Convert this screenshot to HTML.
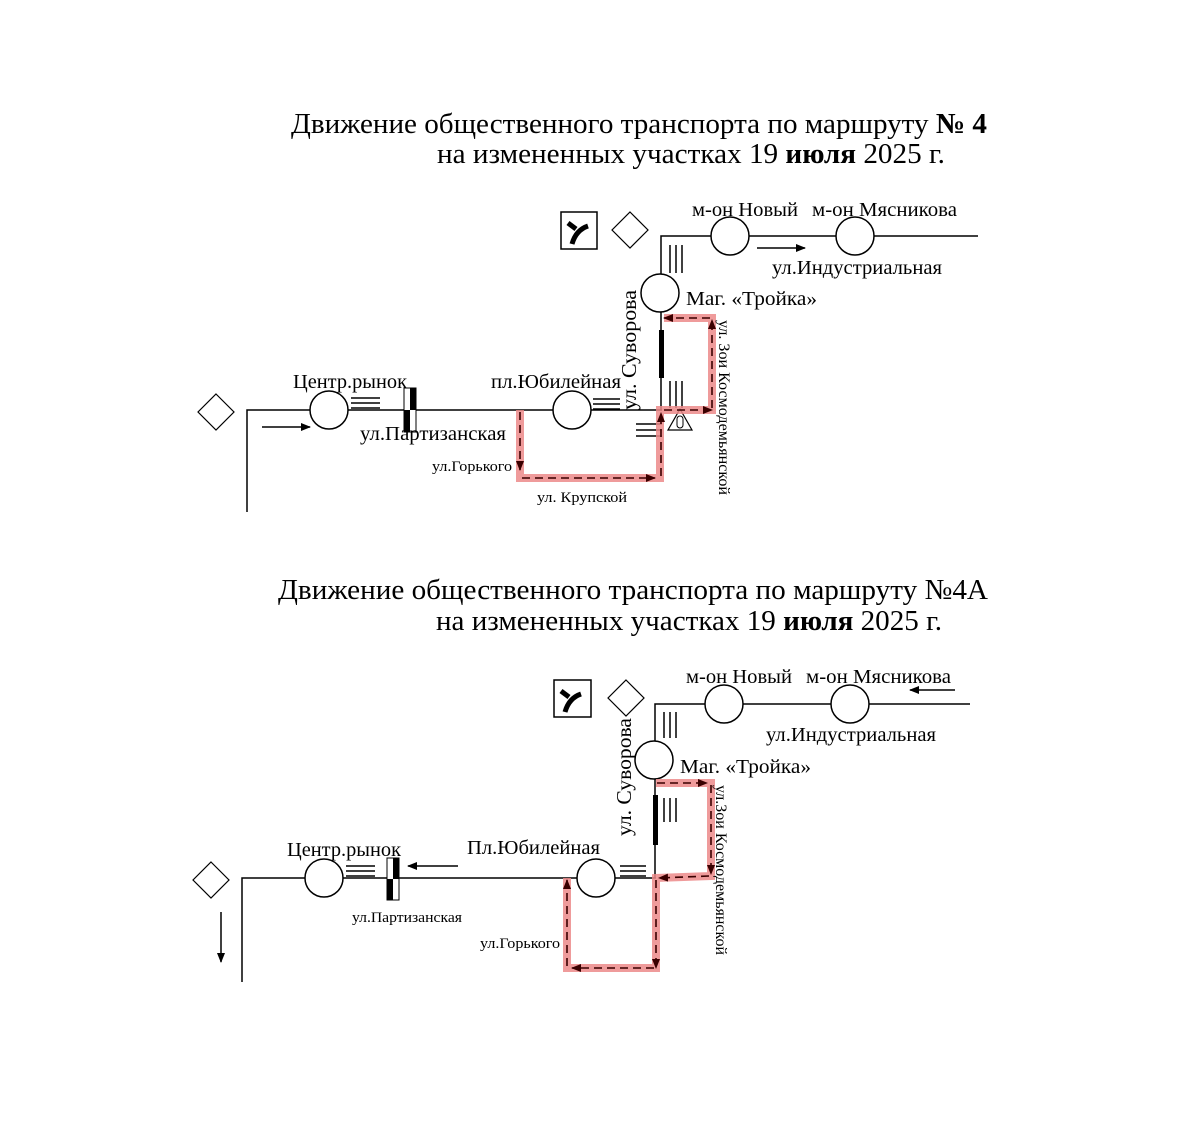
<!DOCTYPE html>
<html><head><meta charset="utf-8"><style>
html,body{margin:0;padding:0;background:#fff}
svg{display:block}
text{font-family:"Liberation Serif","DejaVu Serif",serif;fill:#000}
</style></head><body>
<svg width="1183" height="1138" viewBox="0 0 1183 1138" xmlns="http://www.w3.org/2000/svg">
<defs>
<marker id="a" markerWidth="10" markerHeight="8" refX="9" refY="4" orient="auto" markerUnits="userSpaceOnUse"><path d="M0,0 L10,4 L0,8z" fill="#000"/></marker>
<marker id="r" markerWidth="10" markerHeight="8" refX="9" refY="4" orient="auto" markerUnits="userSpaceOnUse"><path d="M0,0 L10,4 L0,8z" fill="#3a0000"/></marker>
</defs>

<!-- ===== TOP ===== -->
<text x="291" y="133" font-size="29" textLength="696" lengthAdjust="spacingAndGlyphs">Движение общественного транспорта по маршруту <tspan font-weight="bold">№ 4</tspan></text>
<text x="437" y="163" font-size="29" textLength="508" lengthAdjust="spacingAndGlyphs">на измененных участках 19 <tspan font-weight="bold">июля</tspan> 2025 г.</text>

<g stroke="#000" fill="none" stroke-width="1.5">
<polyline points="247,512 247,410 662,410"/>
<polyline points="661,410 661,236 978,236"/>
<path d="M216,394 L234,412 L216,430 L198,412z" stroke-width="1.2"/>
<circle cx="329" cy="410" r="19" fill="#fff"/>
<circle cx="572" cy="410" r="19" fill="#fff"/>
<circle cx="730" cy="236" r="19" fill="#fff"/>
<circle cx="855" cy="236" r="19" fill="#fff"/>
<circle cx="660" cy="293" r="19" fill="#fff"/>
<path d="M351,398h29M351,403h29M351,408h29"/>
<path d="M593,399h27M593,404h27M593,409h27"/>
<path d="M670,245v28M676,245v28M682,245v28"/>
<path d="M670,381v27M676,381v27M682,381v27"/>
<path d="M636,424h26M636,430h26M636,436h26"/>
<line x1="262" y1="427" x2="310" y2="427" marker-end="url(#a)"/>
<line x1="757" y1="248" x2="805" y2="248" marker-end="url(#a)"/>
<path d="M680,409 L692,430 L668,430z" stroke-width="1.2"/>
<rect x="561" y="212" width="36" height="37" stroke-width="1.5"/>
<path d="M630,212 L648,230 L630,248 L612,230z" stroke-width="1.2"/>
</g>
<rect x="677" y="416" width="6" height="12" rx="3" fill="none" stroke="#000" stroke-width="1"/>
<path d="M568,223 L576,229 M588,226 Q576,230 572,244" stroke="#000" stroke-width="5" fill="none"/>
<rect x="404" y="388" width="12" height="44" fill="#fff" stroke="#000"/>
<rect x="410" y="388" width="6" height="22" fill="#000"/>
<rect x="404" y="410" width="6" height="22" fill="#000"/>
<rect x="659" y="330" width="5" height="48" fill="#000"/>
<polyline points="520,410 520,478 660,478 660,410 712,410 712,318 664,318" fill="none" stroke="#ec8a8a" stroke-width="8" opacity="0.85"/>
<g stroke="#3a0000" stroke-width="1.6" fill="none" stroke-dasharray="8,5">
<line x1="520" y1="412" x2="520" y2="470" marker-end="url(#r)"/>
<line x1="522" y1="478" x2="655" y2="478" marker-end="url(#r)"/>
<line x1="661" y1="476" x2="661" y2="413" marker-end="url(#r)"/>
<line x1="664" y1="410" x2="712" y2="410" marker-end="url(#r)"/>
<line x1="712" y1="408" x2="712" y2="320" marker-end="url(#r)"/>
<line x1="710" y1="318" x2="664" y2="318" marker-end="url(#r)"/>
</g>
<text x="293" y="388" font-size="20" textLength="114" lengthAdjust="spacingAndGlyphs">Центр.рынок</text>
<text x="360" y="440" font-size="20" textLength="146" lengthAdjust="spacingAndGlyphs">ул.Партизанская</text>
<text x="491" y="388" font-size="20" textLength="130" lengthAdjust="spacingAndGlyphs">пл.Юбилейная</text>
<text x="692" y="216" font-size="20" textLength="106" lengthAdjust="spacingAndGlyphs">м-он Новый</text>
<text x="812" y="216" font-size="20" textLength="145" lengthAdjust="spacingAndGlyphs">м-он Мясникова</text>
<text x="772" y="274" font-size="20" textLength="170" lengthAdjust="spacingAndGlyphs">ул.Индустриальная</text>
<text x="686" y="305" font-size="20" textLength="131" lengthAdjust="spacingAndGlyphs">Маг. «Тройка»</text>
<text x="432" y="471" font-size="15" textLength="80" lengthAdjust="spacingAndGlyphs">ул.Горького</text>
<text x="537" y="502" font-size="15" textLength="90" lengthAdjust="spacingAndGlyphs">ул. Крупской</text>
<text transform="translate(636,410) rotate(-90)" font-size="21" textLength="120" lengthAdjust="spacingAndGlyphs">ул. Суворова</text>
<text transform="translate(719,320) rotate(90)" font-size="16" textLength="175" lengthAdjust="spacingAndGlyphs">ул. Зои Космодемьянской</text>

<!-- ===== BOTTOM ===== -->
<text x="278" y="599" font-size="29" textLength="710" lengthAdjust="spacingAndGlyphs">Движение общественного транспорта по маршруту №4А</text>
<text x="436" y="630" font-size="29" textLength="506" lengthAdjust="spacingAndGlyphs">на измененных участках 19 <tspan font-weight="bold">июля</tspan> 2025 г.</text>

<g stroke="#000" fill="none" stroke-width="1.5">
<polyline points="242,982 242,878 656,878"/>
<polyline points="655,878 655,704 970,704"/>
<path d="M211,862 L229,880 L211,898 L193,880z" stroke-width="1.2"/>
<circle cx="324" cy="878" r="19" fill="#fff"/>
<circle cx="596" cy="878" r="19" fill="#fff"/>
<circle cx="724" cy="704" r="19" fill="#fff"/>
<circle cx="850" cy="704" r="19" fill="#fff"/>
<circle cx="654" cy="760" r="19" fill="#fff"/>
<path d="M346,866h29M346,871h29M346,876h29"/>
<path d="M620,866h26M620,871h26M620,876h26"/>
<path d="M664,712v26M670,712v26M676,712v26"/>
<path d="M664,798v24M670,798v24M676,798v24"/>
<line x1="221" y1="912" x2="221" y2="962" marker-end="url(#a)"/>
<line x1="458" y1="866" x2="408" y2="866" marker-end="url(#a)"/>
<line x1="955" y1="690" x2="910" y2="690" marker-end="url(#a)"/>
<rect x="554" y="680" width="37" height="37" stroke-width="1.5"/>
<path d="M626,680 L644,698 L626,716 L608,698z" stroke-width="1.2"/>
</g>
<path d="M561,691 L569,697 M581,694 Q569,698 565,712" stroke="#000" stroke-width="5" fill="none"/>
<rect x="387" y="858" width="12" height="42" fill="#fff" stroke="#000"/>
<rect x="393" y="858" width="6" height="21" fill="#000"/>
<rect x="387" y="879" width="6" height="21" fill="#000"/>
<rect x="653" y="795" width="5" height="50" fill="#000"/>
<polyline points="656,783 711,783 711,876 656,878 656,968 567,968 567,878" fill="none" stroke="#ec8a8a" stroke-width="8" opacity="0.85"/>
<g stroke="#3a0000" stroke-width="1.6" fill="none" stroke-dasharray="8,5">
<line x1="657" y1="783" x2="707" y2="783" marker-end="url(#r)"/>
<line x1="711" y1="785" x2="711" y2="874" marker-end="url(#r)"/>
<line x1="709" y1="876" x2="659" y2="878" marker-end="url(#r)"/>
<line x1="656" y1="880" x2="656" y2="968" marker-end="url(#r)"/>
<line x1="654" y1="968" x2="572" y2="968" marker-end="url(#r)"/>
<line x1="567" y1="966" x2="567" y2="880" marker-end="url(#r)"/>
</g>
<text x="287" y="856" font-size="20" textLength="114" lengthAdjust="spacingAndGlyphs">Центр.рынок</text>
<text x="352" y="922" font-size="15" textLength="110" lengthAdjust="spacingAndGlyphs">ул.Партизанская</text>
<text x="467" y="854" font-size="20" textLength="133" lengthAdjust="spacingAndGlyphs">Пл.Юбилейная</text>
<text x="686" y="683" font-size="20" textLength="106" lengthAdjust="spacingAndGlyphs">м-он Новый</text>
<text x="806" y="683" font-size="20" textLength="145" lengthAdjust="spacingAndGlyphs">м-он Мясникова</text>
<text x="766" y="741" font-size="20" textLength="170" lengthAdjust="spacingAndGlyphs">ул.Индустриальная</text>
<text x="680" y="773" font-size="20" textLength="131" lengthAdjust="spacingAndGlyphs">Маг. «Тройка»</text>
<text x="480" y="948" font-size="15" textLength="80" lengthAdjust="spacingAndGlyphs">ул.Горького</text>
<text transform="translate(631,836) rotate(-90)" font-size="21" textLength="118" lengthAdjust="spacingAndGlyphs">ул. Суворова</text>
<text transform="translate(716,785) rotate(90)" font-size="16" textLength="170" lengthAdjust="spacingAndGlyphs">ул.Зои Космодемьянской</text>
</svg>
</body></html>
